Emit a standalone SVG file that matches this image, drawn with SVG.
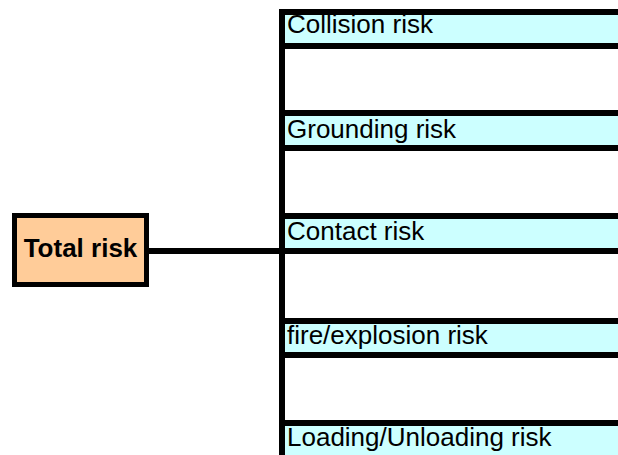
<svg xmlns="http://www.w3.org/2000/svg" width="618" height="455" viewBox="0 0 618 455">
  <style>
    .root { fill: #FFCC99; stroke: #000; stroke-width: 5; }
    .leaf { fill: #CCFFFF; stroke: #000; stroke-width: 6; }
    .wire { stroke: #000; stroke-width: 6; fill: none; }
    .lbl { font-family: "Liberation Sans", Arial, sans-serif; font-size: 26px; fill: #000; }
    .bold { font-weight: bold; }
  </style>
  <rect width="618" height="455" fill="#fff"/>

  <!-- tree connectors -->
  <g id="connectors">
    <line class="wire" x1="149" y1="251" x2="282" y2="251"/>
    <line class="wire" x1="282" y1="9" x2="282" y2="460"/>
  </g>

  <!-- root node -->
  <g id="total-risk">
    <rect class="root" x="14.5" y="215.5" width="132" height="69"/>
    <text class="lbl bold" x="80.5" y="257" text-anchor="middle">Total risk</text>
  </g>

  <!-- risk categories -->
  <g id="collision-risk">
    <rect class="leaf" x="282" y="12" width="350" height="34"/>
    <text class="lbl" x="287" y="33">Collision risk</text>
  </g>
  <g id="grounding-risk">
    <rect class="leaf" x="282" y="113" width="350" height="35"/>
    <text class="lbl" x="287" y="138">Grounding risk</text>
  </g>
  <g id="contact-risk">
    <rect class="leaf" x="282" y="216" width="350" height="35"/>
    <text class="lbl" x="287" y="240">Contact risk</text>
  </g>
  <g id="fire-explosion-risk">
    <rect class="leaf" x="282" y="321" width="350" height="34"/>
    <text class="lbl" x="287" y="344">fire/explosion risk</text>
  </g>
  <g id="loading-unloading-risk">
    <rect class="leaf" x="282" y="423" width="350" height="60"/>
    <text class="lbl" x="287" y="446">Loading/Unloading risk</text>
  </g>
</svg>
